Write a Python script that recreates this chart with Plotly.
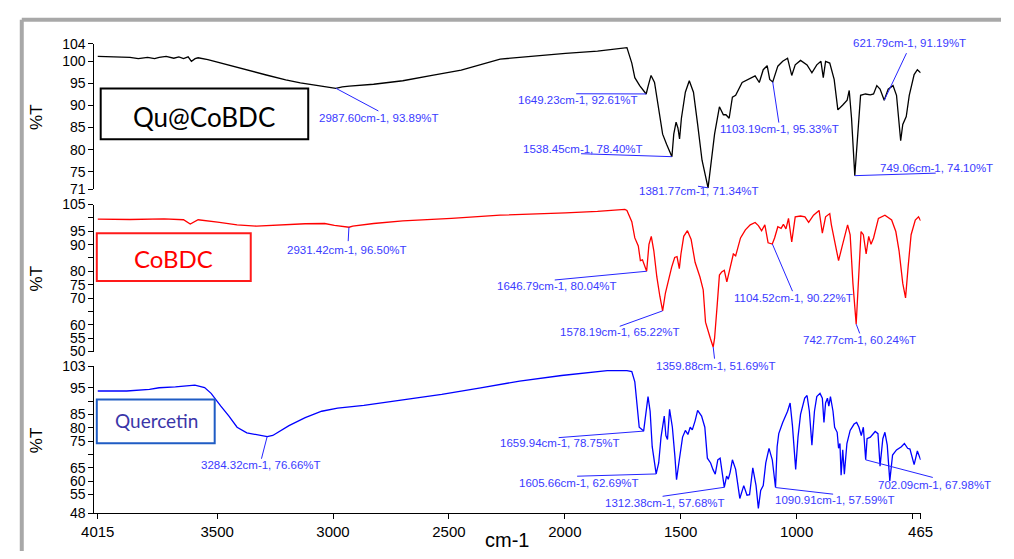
import plotly.graph_objects as go

W, H = 1014, 559

# ---------------- data (wavenumber cm-1, %T) ----------------
qu_wn = [4015, 3950, 3900, 3876, 3840, 3800, 3770, 3750, 3720, 3687, 3665, 3645, 3625, 3611, 3595,
         3582, 3540, 3477, 3414, 3351, 3288, 3204,
         3141, 3078, 3015, 2988, 2960, 2930, 2825, 2699, 2573, 2447, 2279, 2153, 1997, 1859,
         1774, 1732, 1711, 1698, 1677, 1649, 1640, 1628, 1613, 1592, 1578, 1561, 1538, 1530,
         1520, 1512, 1505, 1497, 1480, 1463, 1445, 1427, 1408, 1382, 1371, 1354, 1333, 1316,
         1305, 1291, 1277, 1263, 1235, 1207, 1179, 1161, 1144, 1127, 1116, 1103, 1081, 1060,
         1039, 1021, 1006, 983, 955, 934, 913, 895, 885, 875, 857, 838, 822, 801, 782, 773,
         763, 749, 735, 724, 703, 682, 668, 654, 640, 622, 605, 584, 569, 551, 542, 527, 514,
         493, 479, 465]
qu_t = [101.1, 101.0, 101.0, 100.9, 100.6, 100.9, 100.6, 100.9, 101.1, 100.7, 101.0, 100.6, 101.0, 100.0, 100.6,
        100.8, 100.4, 99.5, 98.6, 97.7, 96.9, 95.8,
        95.1, 94.6, 94.2, 93.89, 94.2, 94.4, 94.8, 95.6, 96.8, 98.0, 100.5, 101.1, 101.8, 102.3,
        102.9, 103.1, 99.6, 96.3, 94.5, 92.6, 94.5, 96.8, 95.2, 88.6, 83.5, 81.2, 78.4, 83.5,
        86.2, 84.9, 82.4, 87.1, 93.0, 95.6, 93.0, 85.7, 77.6, 71.34, 76.1, 83.5, 89.7, 87.9,
        87.9, 87.1, 91.9, 92.3, 95.2, 95.9, 96.7, 95.2, 98.1, 99.0, 95.9, 95.33, 98.9, 100.0,
        100.7, 96.8, 99.2, 100.2, 99.2, 97.4, 99.2, 100.0, 96.3, 100.0, 99.6, 95.9, 89.0, 90.1, 91.2, 93.4,
        87.1, 74.1, 83.5, 92.3, 92.6, 92.4, 92.6, 94.5, 93.7, 91.19, 93.7, 94.5, 92.3, 82.0, 85.7, 87.5, 92.3,
        97.0, 98.1, 97.4]

co_wn = [4015, 3876, 3729, 3645, 3616, 3582, 3498, 3414, 3330, 3246, 3120, 3036, 2994, 2931,
         2915, 2825, 2699, 2489, 2279, 1997, 1859, 1741, 1732, 1711, 1698, 1683, 1674, 1665,
         1647, 1637, 1627, 1616, 1603, 1590, 1578, 1566, 1552, 1539, 1526, 1516, 1506, 1499,
         1487, 1471, 1455, 1438, 1417, 1403, 1393, 1382, 1372, 1360, 1354, 1343, 1333, 1323,
         1312, 1301, 1287, 1273, 1263, 1242, 1221, 1200, 1179, 1165, 1151, 1137, 1123, 1105,
         1095, 1081, 1067, 1057, 1046, 1035, 1021, 1006, 983, 964, 948, 927, 903, 889, 875,
         857, 850, 836, 819, 805, 791, 780, 769, 757, 743, 733, 722, 712, 700, 689, 679, 668,
         647, 619, 590, 572, 558, 542, 530, 519, 506, 488, 474, 465]
co_t = [99.5, 99.4, 99.6, 99.3, 97.7, 99.3, 98.4, 97.4, 96.9, 97.3, 97.8, 97.9, 97.2, 96.5,
        96.9, 97.9, 98.9, 99.8, 101.0, 101.9, 102.4, 103.2, 102.8, 98.6, 92.5, 89.5, 84.0, 84.3,
        80.04, 90.1, 93.1, 87.7, 77.9, 70.7, 65.22, 71.9, 77.4, 81.6, 85.2, 85.5, 81.0, 86.5,
        93.1, 95.2, 91.9, 83.4, 77.9, 73.1, 61.0, 57.4, 54.9, 51.69, 54.9, 67.0, 78.6, 79.8,
        80.4, 76.1, 81.6, 86.5, 85.8, 92.5, 95.5, 97.4, 98.3, 97.1, 95.2, 97.4, 90.7, 90.22,
        92.5, 96.7, 96.1, 97.6, 95.9, 99.8, 91.0, 100.4, 100.7, 100.4, 98.3, 101.0, 102.8, 94.3, 100.4,
        101.6, 97.4, 91.3, 84.0, 88.9, 94.3, 97.4, 93.7, 75.5, 60.24, 77.9, 94.9, 93.7, 86.5, 93.1, 90.1, 92.5,
        99.8, 101.0, 99.2, 94.9, 87.7, 75.5, 70.1, 81.6, 93.7, 99.2, 100.4, 98.9]

qc_wn = [4015, 3890, 3792, 3750, 3680, 3596, 3554, 3526, 3484, 3449, 3414, 3372, 3284, 3260,
         3190, 3120, 3049, 2980, 2867, 2699, 2531, 2363, 2195, 2014, 1817, 1732, 1711, 1698,
         1688, 1679, 1660, 1650, 1641, 1632, 1623, 1606, 1595, 1585, 1571, 1564, 1557, 1548,
         1536, 1525, 1518, 1506, 1492, 1480, 1469, 1459, 1450, 1438, 1427, 1410, 1396, 1385,
         1371, 1361, 1351, 1340, 1330, 1312, 1302, 1295, 1287, 1277, 1263, 1245, 1228, 1214,
         1203, 1189, 1175, 1165, 1155, 1144, 1133, 1119, 1105, 1091, 1084, 1077, 1060, 1039,
         1028, 1018, 1011, 1004, 994, 983, 965, 955, 945, 934, 923, 913, 899, 889, 882, 875,
         867, 861, 854, 843, 836, 825, 819, 813, 808, 801, 794, 783, 769, 752, 741, 731, 721,
         712, 702, 696, 682, 661, 649, 640, 628, 619, 609, 598, 586, 569, 548, 535, 521, 511,
         493, 479, 465]
qc_t = [93.8, 93.8, 94.4, 95.0, 95.3, 96.0, 95.1, 92.9, 88.1, 84.4, 80.2, 78.1, 76.66, 77.1,
        80.8, 83.8, 86.2, 87.4, 88.4, 90.5, 92.5, 95.0, 97.5, 99.6, 101.4, 101.4, 101.1, 97.2,
        88.7, 80.2, 78.75, 85.0, 91.7, 86.2, 72.9, 62.69, 66.8, 76.5, 84.4, 77.1, 75.6, 86.9,
        80.2, 69.2, 60.5, 68.0, 76.5, 79.0, 77.5, 80.2, 79.2, 82.6, 86.5, 84.4, 80.2, 68.6,
        66.8, 64.4, 62.6, 68.0, 68.6, 57.68, 61.9, 60.7, 63.2, 68.0, 64.4, 53.5, 58.3, 54.7,
        54.9, 65.0, 58.3, 49.8, 56.5, 58.3, 66.8, 72.3, 68.0, 57.59, 72.9, 77.8, 82.0, 86.2,
        89.3, 80.8, 72.3, 64.4, 76.5, 85.0, 91.1, 92.1, 86.2, 73.5, 86.2, 91.7, 92.9, 91.1, 82.0, 89.3,
        91.1, 88.1, 91.7, 86.2, 80.2, 78.3, 72.3, 74.1, 62.2, 71.7, 62.6, 74.1, 79.0, 81.4, 82.0, 80.2, 77.1,
        80.2, 67.98, 75.9, 76.5, 78.6, 77.8, 65.6, 75.9, 78.3, 73.5, 60.1, 69.8, 71.7, 72.9, 74.1, 72.3, 72.0,
        66.2, 71.3, 68.0]

# peak labels
qu_peak_wn = [2987.60, 1649.23, 1538.45, 1381.77, 1103.19, 621.79, 749.06]
qu_peak_t = [93.89, 92.61, 78.40, 71.34, 95.33, 91.19, 74.10]
co_peak_wn = [2931.42, 1646.79, 1578.19, 1359.88, 1104.52, 742.77]
co_peak_t = [96.50, 80.04, 65.22, 51.69, 90.22, 60.24]
qc_peak_wn = [3284.32, 1659.94, 1605.66, 1312.38, 1090.91, 702.09]
qc_peak_t = [76.66, 78.75, 62.69, 57.68, 57.59, 67.98]

x_tickvals = [4015, 3500, 3000, 2500, 2000, 1500, 1000, 500, 465]
x_ticktext = ["4015", "3500", "3000", "2500", "2000", "1500", "1000", "", "465"]
qu_tickvals = [104, 100, 95, 90, 85, 80, 75, 71]
co_tickvals = [105, 100, 95, 90, 85, 80, 75, 70, 65, 60, 55, 50]
co_ticktext = ["105", "", "95", "90", "", "80", "75", "70", "", "60", "55", "50"]
qc_tickvals = [103, 95, 90, 85, 80, 75, 70, 65, 60, 55, 48]
qc_ticktext = ["103", "95", "", "85", "80", "75", "", "65", "60", "55", "48"]

# ---------------- layout geometry (pixels) ----------------
X0PX, X1PX = 83.5, 931.5
XR = [4029.7, 465]
panels = {
    "top": dict(y0=36.7, y1=186.7, rng=[71, 104]),
    "mid": dict(y0=202.3, y1=353.7, rng=[50, 105]),
    "bot": dict(y0=369.0, y1=520.0, rng=[48, 103]),
}


def px(x, y):
    return x / W, 1 - y / H


def to_paper(panel, wn, t):
    p = panels[panel]
    xf = (XR[0] - wn) / (XR[0] - XR[1])
    xpx = X0PX + xf * (X1PX - X0PX)
    lo, hi = p["rng"]
    ypx = p["y1"] - (t - lo) / (hi - lo) * (p["y1"] - p["y0"])
    return px(xpx, ypx)


fig = go.Figure()
fig.add_trace(go.Scatter(x=qu_wn, y=qu_t, mode="lines", line=dict(color="#000000", width=1.3),
                         xaxis="x", yaxis="y", showlegend=False, hoverinfo="skip"))
fig.add_trace(go.Scatter(x=co_wn, y=co_t, mode="lines", line=dict(color="#ff0000", width=1.3),
                         xaxis="x2", yaxis="y2", showlegend=False, hoverinfo="skip"))
fig.add_trace(go.Scatter(x=qc_wn, y=qc_t, mode="lines", line=dict(color="#0000ff", width=1.3),
                         xaxis="x3", yaxis="y3", showlegend=False, hoverinfo="skip"))

xdom = [X0PX / W, X1PX / W]


def ydom(p):
    return [1 - panels[p]["y1"] / H, 1 - panels[p]["y0"] / H]


tickfont = dict(family="Liberation Sans, Arial", size=14, color="#000")
yax_common = dict(showgrid=False, zeroline=False, showline=True, linecolor="#000", linewidth=1,
                  ticks="outside", ticklen=5, tickcolor="#000", tickwidth=1, tickfont=tickfont,
                  tickmode="array")
xax_hidden = dict(range=XR, domain=xdom, visible=False, showgrid=False, zeroline=False)

fig.update_layout(
    width=W, height=H, autosize=False,
    margin=dict(l=0, r=0, t=0, b=0, pad=0),
    paper_bgcolor="white", plot_bgcolor="white",
    xaxis=dict(**xax_hidden, anchor="y"),
    xaxis2=dict(**xax_hidden, anchor="y2"),
    xaxis3=dict(range=XR, domain=xdom, anchor="y3", showgrid=False, zeroline=False,
                showline=True, linecolor="#000", linewidth=1, ticks="outside", ticklen=5,
                tickcolor="#000", tickmode="array", tickvals=x_tickvals, ticktext=x_ticktext,
                tickfont=dict(family="Liberation Sans, Arial", size=15, color="#000")),
    yaxis=dict(**yax_common, domain=ydom("top"), range=panels["top"]["rng"], anchor="x",
               tickvals=qu_tickvals, ticktext=[str(v) for v in qu_tickvals]),
    yaxis2=dict(**yax_common, domain=ydom("mid"), range=panels["mid"]["rng"], anchor="x2",
                tickvals=co_tickvals, ticktext=co_ticktext),
    yaxis3=dict(**yax_common, domain=ydom("bot"), range=panels["bot"]["rng"], anchor="x3",
                tickvals=qc_tickvals, ticktext=qc_ticktext),
)

# ---------------- peak labels ----------------
lab_font = dict(family="Liberation Sans, Arial", size=11.5, color="#3a3aff")
lead_color = "#2424ff"

# (text centre px, leader end px)
qu_text_pos = [(376, 113), (580, 94.5), (585, 145), (704, 188), (787, 124.5), (920, 36), (948, 164.5)]
qu_lead_end = [(375, 106), (578, 88.3), (583, 150), (703, 183.5), (786, 118), (917, 46.5), (947, 170)]
co_text_pos = [(343, 249), (558, 286), (623, 334), (722, 368.5), (801, 298.5), (869, 341.7)]
co_lead_end = [(344, 240), (556, 280), (622.7, 327.7), (720, 361), (800, 291.5), (869, 335)]
qc_text_pos = [(255, 470), (561, 448), (581, 489), (669, 510), (843.5, 506.5), (945.5, 491)]
qc_lead_end = [(255, 464), (560, 442.3), (579, 482), (666.7, 502.7), (841.7, 500.5), (944, 483.3)]

annotations = []
shapes = []
for panel, pw, pt, tpos, lend in [
    ("top", qu_peak_wn, qu_peak_t, qu_text_pos, qu_lead_end),
    ("mid", co_peak_wn, co_peak_t, co_text_pos, co_lead_end),
    ("bot", qc_peak_wn, qc_peak_t, qc_text_pos, qc_lead_end),
]:
    for wn, t, (tx, ty), (ex, ey) in zip(pw, pt, tpos, lend):
        x0, y0 = to_paper(panel, wn, t)
        x1, y1 = px(ex, ey)
        shapes.append(dict(type="line", xref="paper", yref="paper", x0=x0, y0=y0, x1=x1, y1=y1,
                           line=dict(color=lead_color, width=1)))
        ax_, ay_ = px(tx, ty)
        annotations.append(dict(xref="paper", yref="paper", x=ax_, y=ay_, xanchor="center",
                                yanchor="middle", showarrow=False,
                                text=f"{wn:.2f}cm-1, {t:.2f}%T", font=lab_font))

# ---------------- sample boxes ----------------
boxes = [
    ("Qu@CoBDC", (90, 83, 303, 135), "#000000", "#000000", 26, (196, 112)),
    ("CoBDC", (86, 232, 244, 281), "#ff1a1a", "#ff0000", 24, (165, 258)),
    ("Quercetin", (86, 403, 207, 448), "#1f5cc4", "#3b35a8", 19, (147, 425)),
]
for text, (bx0, by0, bx1, by1), bcol, tcol, fs, (cx, cy) in boxes:
    a, b = px(bx0, by0)
    c, d = px(bx1, by1)
    shapes.append(dict(type="rect", xref="paper", yref="paper", x0=a, y0=d, x1=c, y1=b,
                       line=dict(color=bcol, width=2), fillcolor="rgba(0,0,0,0)"))
    tx, ty = px(cx, cy)
    annotations.append(dict(xref="paper", yref="paper", x=tx, y=ty, xanchor="center",
                            yanchor="middle", showarrow=False, text=text,
                            font=dict(family="Lato, Noto Sans, sans-serif", size=fs, color=tcol)))

# y titles
for p in ["top", "mid", "bot"]:
    cy = (panels[p]["y0"] + panels[p]["y1"]) / 2
    tx, ty = px(24, cy)
    annotations.append(dict(xref="paper", yref="paper", x=tx, y=ty, xanchor="center",
                            yanchor="middle", showarrow=False, text="%T", textangle=-90,
                            font=dict(family="Liberation Sans, Arial", size=17, color="#000")))

# x title
tx, ty = px(507, 548)
annotations.append(dict(xref="paper", yref="paper", x=tx, y=ty, xanchor="center", yanchor="middle",
                        showarrow=False, text="cm-1",
                        font=dict(family="Liberation Sans, Arial", size=20, color="#000")))

# grey frame
fx0, fy0 = px(9, 12)
shapes.append(dict(type="line", xref="paper", yref="paper", x0=fx0, y0=fy0, x1=1, y1=fy0,
                   line=dict(color="#a8a8a8", width=4)))
shapes.append(dict(type="line", xref="paper", yref="paper", x0=fx0, y0=fy0, x1=fx0, y1=0,
                   line=dict(color="#a8a8a8", width=4)))

fig.update_layout(annotations=annotations, shapes=shapes)
fig.write_html("out.html")
